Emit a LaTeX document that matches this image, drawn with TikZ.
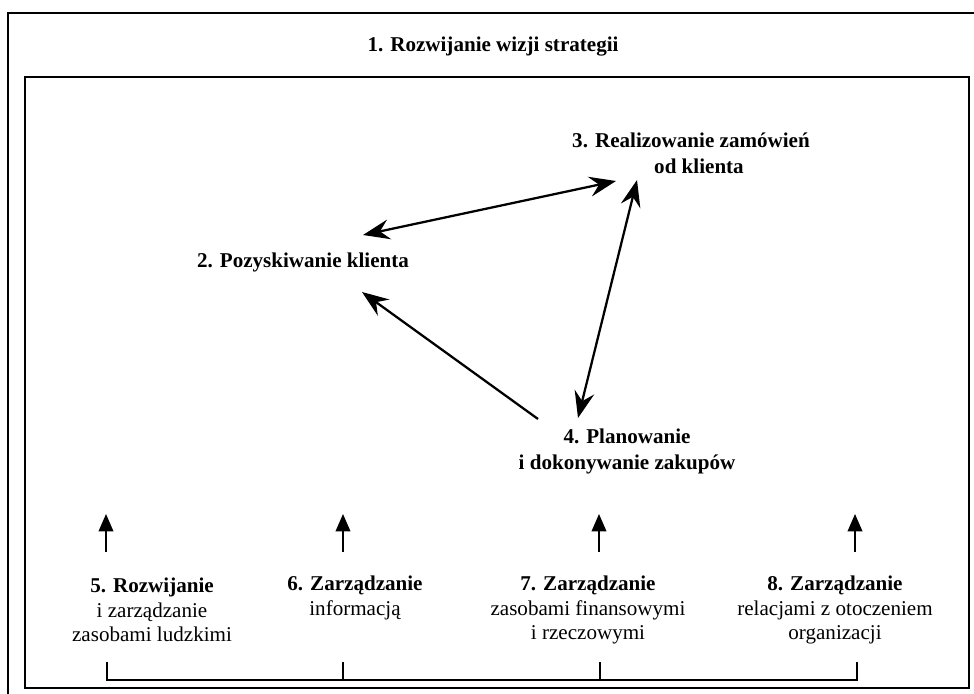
\documentclass[tikz,border=0pt]{standalone}
\usepackage{fontspec}
\setmainfont{Liberation Serif}
\usetikzlibrary{arrows.meta}
\begin{document}
\begin{tikzpicture}[x=0.75pt,y=-0.75pt,
  lbl/.style={font=\fontsize{15.8}{18.4}\selectfont, align=center, inner sep=0pt},
  blbl/.style={inner sep=0pt, align=center, font=\fontsize{15.8}{19.5}\selectfont\bfseries},
  bigarrow/.style={line width=1.7pt, {Stealth[length=20pt,width=15pt,inset=7pt]}-{Stealth[length=20pt,width=15pt,inset=7pt]}},
  onearrow/.style={line width=1.7pt, -{Stealth[length=20pt,width=15pt,inset=7pt]}},
  smallarrow/.style={line width=1.1pt, -{Triangle[length=13pt,width=11pt]}},
  frame/.style={line width=1.6pt}]
\useasboundingbox (0,0) rectangle (974,693);
\begin{scope}
\clip (0,0) rectangle (974,693);
\draw[frame] (8,13) rectangle (980,700);
\end{scope}
\draw[frame] (25,77) rectangle (969,688);

\node[blbl] (t1) at (493,47) {1. Rozwijanie wizji strategii};
\node[blbl] (t3) at (691,153) {3. Realizowanie zamówień\\\hspace*{12pt}od klienta};
\node[blbl] (t2) at (303,262) {2. Pozyskiwanie klienta};
\node[blbl] (t4) at (627,451) {4. Planowanie\\i dokonywanie zakupów};

\coordinate (a2) at (363,235);
\coordinate (a3l) at (616,181);
\coordinate (a3b) at (637,180);
\coordinate (a4t) at (578,418);
\coordinate (a4l) at (538,419);
\coordinate (a2b) at (362,292);

\draw[bigarrow] (a2) -- (a3l);
\draw[bigarrow] (a3b) -- (a4t);
\draw[onearrow] (a4l) -- (a2b);

\node[lbl] (b5) at (152,610) {\textbf{5. Rozwijanie}\\i zarządzanie\\zasobami ludzkimi};
\node[lbl] (b6) at (355,598) {\textbf{6. Zarządzanie}\\informacją};
\node[lbl] (b7) at (588,610) {\textbf{7. Zarządzanie}\\zasobami finansowymi\\i rzeczowymi};
\node[lbl] (b8) at (835,610) {\textbf{8. Zarządzanie}\\relacjami z otoczeniem\\organizacji};

\foreach \n/\x in {5/106,6/343,7/599,8/855}{
  \coordinate (s\n) at (\x,552);
  \coordinate (e\n) at (\x,514);
  \draw[smallarrow] (s\n) -- (e\n);
}

\foreach \n/\x in {5/107,6/343,7/600,8/857}{
  \coordinate (k\n) at (\x,662);
  \coordinate (h\n) at (\x,680);
}
\draw[line width=1.1pt] (k5) -- (h5) -- (h8) -- (k8);
\draw[line width=1.1pt] (k6) -- (h6);
\draw[line width=1.1pt] (k7) -- (h7);
\end{tikzpicture}
\end{document}
